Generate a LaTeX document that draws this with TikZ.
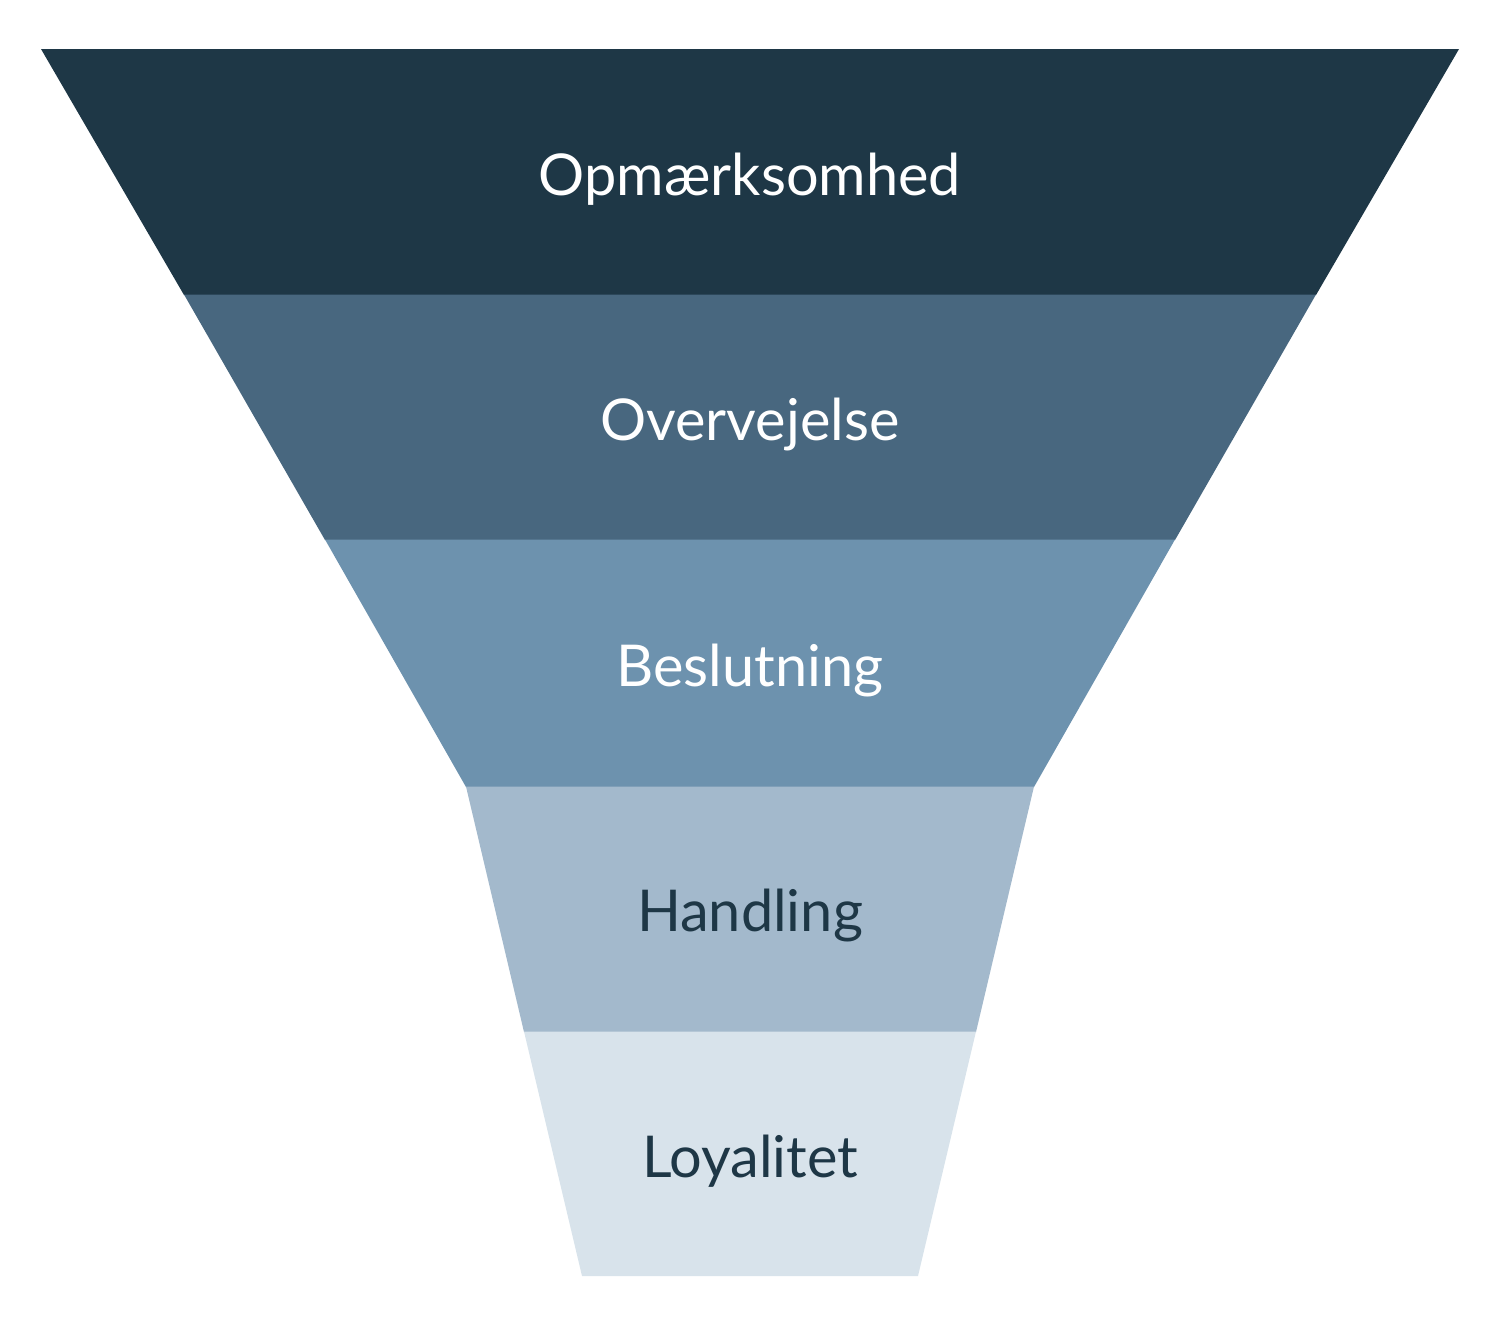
\documentclass[tikz,border=0pt]{standalone}
\usepackage{fontspec}
\setmainfont{Lato}
\usepackage{tikz}
\usetikzlibrary{positioning}

\definecolor{stageA}{HTML}{1E3746}
\definecolor{stageB}{HTML}{48677F}
\definecolor{stageC}{HTML}{6D92AE}
\definecolor{stageD}{HTML}{A3B9CC}
\definecolor{stageE}{HTML}{D8E3EB}

\tikzset{
    lightlabel/.style={anchor=base, text=white, font=\fontsize{16.4}{20}\selectfont},
    darklabel/.style={anchor=base, text=stageA, font=\fontsize{16.4}{20}\selectfont}
}

\begin{document}
\begin{tikzpicture}[x=0.01cm, y=-0.01cm]

% Frame
\useasboundingbox (0,0) rectangle (1500,1326);

% Funnel bands
\fill[stageA] (41,49) -- (1459,49) -- (1316,295) -- (184,295) -- cycle;
\fill[stageB] (184,294.5) -- (1316,294.5) -- (1175,540) -- (325,540) -- cycle;
\fill[stageC] (325,539.5) -- (1175,539.5) -- (1034,787) -- (466,787) -- cycle;
\fill[stageD] (466,786.5) -- (1034,786.5) -- (976,1032) -- (524,1032) -- cycle;
\fill[stageE] (524,1031.5) -- (976,1031.5) -- (918,1276) -- (582,1276) -- cycle;

% Labels
\node[lightlabel] (awareness) at (750,195) {Opmærksomhed};
\node[lightlabel] (consider) at (750,440) {Overvejelse};
\node[lightlabel] (decision) at (750,686) {Beslutning};
\node[darklabel] (action) at (750,931) {Handling};
\node[darklabel] (loyalty) at (750,1177) {Loyalitet};

\end{tikzpicture}
\end{document}
